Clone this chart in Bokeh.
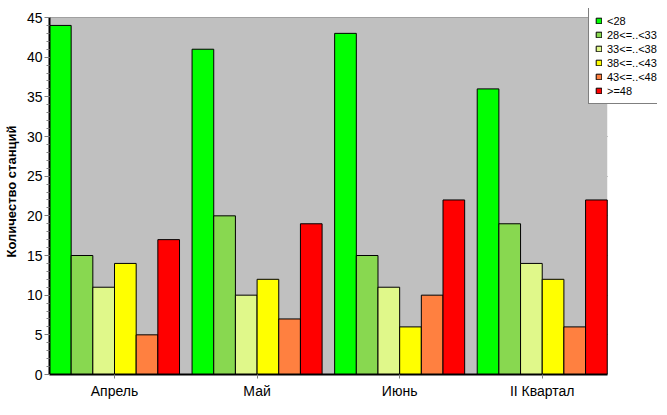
from bokeh.plotting import figure
from bokeh.models import (ColumnDataSource, Range1d, FixedTicker, Legend, LegendItem,
                          BoxAnnotation)
from bokeh.transform import dodge
from bokeh.embed import file_html
from bokeh.resources import INLINE

months = ["Апрель", "Май", "Июнь", "II Квартал"]
series_names = ["<28", "28<=..<33", "33<=..<38", "38<=..<43", "43<=..<48", ">=48"]
v_lt28 = [44, 41, 43, 36]
v_28_33 = [15, 20, 15, 19]
v_33_38 = [11, 10, 11, 14]
v_38_43 = [14, 12, 6, 12]
v_43_48 = [5, 7, 10, 6]
v_ge48 = [17, 19, 22, 22]
values = [v_lt28, v_28_33, v_33_38, v_38_43, v_43_48, v_ge48]
colors = ["#00FF00", "#88D850", "#E0F88A", "#FFFF00", "#FF8040", "#FF0000"]
y_ticks = list(range(0, 50, 5))

FONT = "Liberation Sans"
group_w = 0.912
bw = group_w / 6
x_lo, x_hi = -group_w / 2, 3 + group_w / 2
y_lo, y_hi = 0, 45

# frame: 617 x 366 px; data area 566 x 357 px
px_x = 566 / (x_hi - x_lo)
px_y = 357 / (y_hi - y_lo)

p = figure(width=659, height=407, output_backend="svg", toolbar_location=None,
           x_range=Range1d(x_lo, x_lo + 617 / px_x),
           y_range=Range1d(y_lo, y_lo + 366 / px_y),
           min_border_left=40, min_border_right=2, min_border_top=8, min_border_bottom=33)
p.background_fill_color = "white"
p.border_fill_color = "white"
p.outline_line_color = None

p.add_layout(BoxAnnotation(left=x_lo, right=x_hi, bottom=y_lo, top=y_hi,
                           fill_color="#C0C0C0", fill_alpha=1, line_color=None,
                           level="underlay"))

x_idx = list(range(len(months)))
items = []
for i, (name, vals, col) in enumerate(zip(series_names, values, colors)):
    src = ColumnDataSource(dict(x=x_idx, top=vals))
    r = p.vbar(x=dodge("x", (i - 2.5) * bw, range=p.x_range), top="top", width=bw,
               source=src, fill_color=col, line_color="black", line_width=1)
    items.append(LegendItem(label=name, renderers=[r]))

p.xgrid.grid_line_color = None
p.ygrid.ticker = FixedTicker(ticks=y_ticks)
p.ygrid.grid_line_color = "#808080"
p.ygrid.grid_line_width = 1
p.ygrid.cross_bounds = (x_lo, x_hi)
p.ygrid.bounds = (y_lo, y_hi)

xa = p.xaxis[0]
xa.ticker = FixedTicker(ticks=x_idx)
xa.bounds = (x_lo, x_hi)
xa.major_label_overrides = {i: m for i, m in enumerate(months)}
xa.axis_line_width = 2
xa.axis_line_color = "black"
xa.major_tick_out = 4
xa.major_tick_in = 0
xa.major_tick_line_color = "#808080"
xa.minor_tick_line_color = None
xa.major_label_text_font = FONT
xa.major_label_text_font_size = "14px"
xa.major_label_text_color = "black"
xa.major_label_standoff = 4

ya = p.yaxis[0]
ya.ticker = FixedTicker(ticks=y_ticks, minor_ticks=list(range(y_lo, y_hi + 1)))
ya.bounds = (y_lo, y_hi)
ya.axis_line_width = 2
ya.axis_line_color = "black"
ya.major_tick_out = 5
ya.major_tick_in = 0
ya.major_tick_line_color = "#808080"
ya.minor_tick_out = 3
ya.minor_tick_in = 0
ya.minor_tick_line_color = "#808080"
ya.major_label_text_font = FONT
ya.major_label_text_font_size = "14px"
ya.major_label_text_color = "black"
ya.major_label_standoff = 2
ya.axis_label = "Количество станций"
ya.axis_label_text_font = FONT
ya.axis_label_text_font_style = "bold"
ya.axis_label_text_font_size = "13px"
ya.axis_label_text_color = "black"
ya.axis_label_standoff = 5

legend = Legend(items=items, location=(539, 270))
legend.label_text_font = FONT
legend.label_text_font_size = "11px"
legend.label_text_color = "black"
legend.glyph_width = 7
legend.glyph_height = 7
legend.label_height = 13
legend.label_standoff = 5
legend.spacing = 1
legend.padding = 6
legend.margin = 0
legend.border_line_color = "black"
legend.border_line_width = 1
legend.background_fill_color = "white"
legend.background_fill_alpha = 1
p.add_layout(legend, "center")

open("out.html", "w").write(file_html(p, INLINE))
